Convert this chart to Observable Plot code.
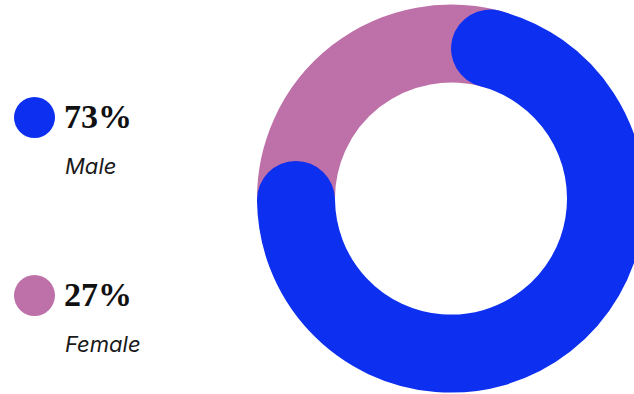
<!DOCTYPE html>
<html>
<head>
<meta charset="utf-8">
<script src="https://cdn.jsdelivr.net/npm/d3@7"></script>
<script src="https://cdn.jsdelivr.net/npm/@observablehq/plot@0.6"></script>
<style>
  html, body { margin: 0; padding: 0; background: #ffffff; }
  #wrap { position: relative; width: 634px; height: 394px; overflow: hidden; }
  #chart { position: absolute; left: 0; top: 0; }
  #legend { position: absolute; left: 0; top: 0; width: 240px; height: 394px; }
  .item { position: absolute; left: 0; width: 240px; height: 100px; }
  .swatch { position: absolute; left: 14px; top: 0; width: 41px; height: 41px; border-radius: 50%; }
  .value { position: absolute; left: 64px; top: 3px; font-family: "Liberation Serif", "DejaVu Serif", serif; font-weight: 700; font-size: 34px; line-height: 33px; color: #111111; white-space: nowrap; }
  .label { position: absolute; left: 65px; top: 58px; font-family: Inter, "Open Sans", sans-serif; font-style: italic; font-size: 22px; line-height: 22px; color: #1a1a1a; white-space: nowrap; }
</style>
</head>
<body>
<div id="wrap">
  <div id="chart"></div>
  <div id="legend"></div>
</div>
<script>
// ---- data ----
const categories = ["Male", "Female"];
const shares = [73, 27];
const valueLabels = ["73%", "27%"];
const colors = ["#0c2ff0", "#be70a8"];

// ---- style / layout ----
const W = 634, H = 394;
const CX = 451, CY = 198.6, R = 194;   // donut frame in pixels
const INNER = 0.598;                   // inner radius as fraction of outer
const START = 10.65 * Math.PI / 180;   // rotation of first slice (clockwise from 12 o'clock)
const CAP_TRIM = 7.9 * Math.PI / 180;  // trim of rounded ends

const slices = d3.pie().sort(null).value(d => d.share)
  .startAngle(START).endAngle(START + 2 * Math.PI)(
    categories.map((c, i) => ({category: c, share: shares[i], color: colors[i], cx: 0, cy: 0}))
  );

function donutRender(index, scales, values) {
  const g = d3.create("svg:g");
  const x0 = values.x[index[0]], y0 = values.y[index[0]];
  const rOuter = scales.x(1) - scales.x(0);
  const rInner = scales.x(INNER) - scales.x(0);
  const rMid = (rOuter + rInner) / 2, w = rOuter - rInner;
  const first = slices[0];
  const b0 = first.startAngle + CAP_TRIM / 2, b1 = first.endAngle - CAP_TRIM / 2;
  // remaining share drawn behind, from the end of the first slice round to its start
  const rest = d3.path();
  rest.arc(x0, y0, rMid, b1 - Math.PI / 2, b0 + 2 * Math.PI - Math.PI / 2, false);
  g.append("path").attr("d", rest.toString()).attr("fill", "none")
    .attr("stroke", slices[1].data.color).attr("stroke-width", w).attr("stroke-linecap", "round");
  const main = d3.path();
  main.arc(x0, y0, rMid, b0 - Math.PI / 2, b1 - Math.PI / 2, false);
  g.append("path").attr("d", main.toString()).attr("fill", "none")
    .attr("stroke", first.data.color).attr("stroke-width", w).attr("stroke-linecap", "round");
  return g.node();
}

const chart = Plot.plot({
  width: W, height: H, margin: 0,
  x: {domain: [-1, 1], range: [CX - R, CX + R], axis: null},
  y: {domain: [-1, 1], range: [CY + R, CY - R], axis: null},
  marks: [
    Plot.dot(slices, {x: d => d.data.cx, y: d => d.data.cy, render: donutRender})
  ]
});
document.getElementById("chart").appendChild(chart);

// ---- legend ----
const legend = document.getElementById("legend");
categories.forEach((c, i) => {
  const item = document.createElement("div");
  item.className = "item";
  item.style.top = (97 + i * 178) + "px";
  item.innerHTML = `<div class="swatch" style="background:${colors[i]}"></div>` +
    `<div class="value">${valueLabels[i]}</div>` +
    `<div class="label">${c}</div>`;
  legend.appendChild(item);
});
</script>
</body>
</html>
